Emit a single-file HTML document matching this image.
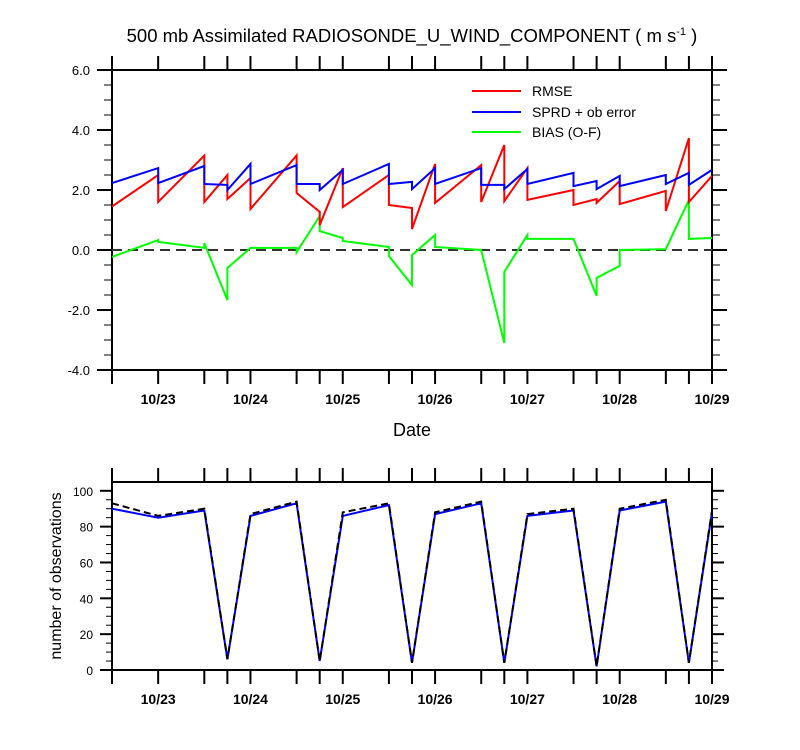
<!DOCTYPE html>
<html><head><meta charset="utf-8"><style>
html,body{margin:0;padding:0;background:#fff;}
svg{display:block;font-family:"Liberation Sans",Arial,sans-serif;}
</style></head><body>
<svg id="chart" width="800" height="750" viewBox="0 0 800 750">
<text x="412" y="42" text-anchor="middle" font-size="18.5">500 mb Assimilated RADIOSONDE_U_WIND_COMPONENT ( m s<tspan font-size="11" dy="-7">-1</tspan><tspan dy="7"> )</tspan></text>
<g id="topPanel"></g>
<g id="botPanel"></g>
<text x="412" y="436" text-anchor="middle" font-size="18">Date</text>
<text transform="translate(61,576) rotate(-90)" text-anchor="middle" font-size="16">number of observations</text>
<g>
<line x1="472" y1="91" x2="521" y2="91" stroke="#f00" stroke-width="2"/>
<text x="532" y="96" font-size="14">RMSE</text>
<line x1="472" y1="112" x2="521" y2="112" stroke="#00f" stroke-width="2"/>
<text x="532" y="117" font-size="14">SPRD + ob error</text>
<line x1="472" y1="132" x2="521" y2="132" stroke="#0f0" stroke-width="2"/>
<text x="532" y="137" font-size="14">BIAS (O-F)</text>
</g>
</svg>
<script>
const tickHours=[0,12,24,30,36,48,54,60,72,78,84,96,102,108,120,126,132,144,150,156];
const dateLabels=["10/23","10/24","10/25","10/26","10/27","10/28","10/29"];
const dateHours=[12,36,60,84,108,132,156];
const rmseT=[0,12,12,24,24,30,30,36,36,48,48,54,54,60,60,72,72,78,78,84,84,96,96,102,102,108,108,120,120,126,126,132,132,144,144,150,150,156];
const rmseV=[1.45,2.5,1.6,3.15,1.6,2.5,1.7,2.4,1.37,3.15,1.9,1.27,0.83,2.73,1.43,2.5,1.5,1.4,0.7,2.87,1.57,2.83,1.6,3.5,1.63,2.73,1.67,2.0,1.5,1.7,1.57,2.3,1.53,1.97,1.3,3.73,1.6,2.47];
const sprdT=[0,12,12,24,24,30,30,36,36,48,48,54,54,60,60,72,72,78,78,84,84,96,96,102,102,108,108,120,120,126,126,132,132,144,144,150,150,156];
const sprdV=[2.23,2.73,2.23,2.8,2.2,2.17,2.0,2.87,2.2,2.83,2.2,2.2,2.0,2.67,2.2,2.87,2.2,2.27,2.03,2.73,2.2,2.73,2.17,2.17,2.03,2.7,2.2,2.57,2.13,2.3,2.03,2.47,2.13,2.5,2.2,2.57,2.17,2.67];
const biasT=[0,12,12,24,24,30,30,36,48,48,54,54,60,60,72,72,78,78,84,84,96,102,102,108,108,120,126,126,132,132,144,150,150,156];
const biasV=[-0.23,0.33,0.27,0.07,0.23,-1.67,-0.6,0.07,0.07,-0.07,1.13,0.63,0.4,0.3,0.1,-0.2,-1.17,-0.17,0.5,0.1,0.0,-3.1,-0.73,0.5,0.37,0.37,-1.53,-0.93,-0.53,0,0.03,1.67,0.37,0.4];
const obsT=[0,12,24,30,36,48,54,60,72,78,84,96,102,108,120,126,132,144,150,156];
const obsUsed=[90,85,89,6,86,93,5,86,92,4,87,93,4,86,89,2,89,94,4,88];
const obsTotal=[93,86,90,6,87,94,5,88,93,4,88,94,4,87,90,2,90,95,4,89];
const topTicks=[6,4,2,0,-2,-4];
const botTicks=[0,20,40,60,80,100];

const NS="http://www.w3.org/2000/svg";
const X0=112,X1=712;
const xs=h=>X0+h*(X1-X0)/156;
const yTop=v=>250-v*30;
const yBot=v=>670-v*1.792;
function el(tag,attrs,parent){const e=document.createElementNS(NS,tag);for(const k in attrs)e.setAttribute(k,attrs[k]);parent.appendChild(e);return e;}
function ln(p,x1,y1,x2,y2,w){return el('line',{x1:x1,y1:y1,x2:x2,y2:y2,stroke:'#000','stroke-width':w||1.5},p);}

function frame(g,yT,yB,ymap,ticks,minorStep,lo,hi,fmt,fs,majLen,minLen,labX){
  const f=el('rect',{x:X0,y:yT,width:X1-X0,height:yB-yT,fill:'none',stroke:'#000','stroke-width':2},g);
  
  
  tickHours.forEach(h=>{const x=xs(h);ln(g,x,yT,x,yT-14,2);ln(g,x,yB,x,yB+14,2);});
  for(let v=lo;v<=hi+1e-9;v+=minorStep){const y=ymap(v);ln(g,X0,y,X0-minLen,y,1);ln(g,X1,y,X1+minLen,y,1);}
  ticks.forEach(v=>{const y=ymap(v);ln(g,X0,y,X0-majLen,y,2);ln(g,X1,y,X1+majLen,y,2);
    const t=el('text',{x:labX,y:y+5,'text-anchor':'end','font-size':fs},g);t.textContent=fmt(v);
    
    });
  dateHours.forEach((h,i)=>{const t=el('text',{x:xs(h),y:yB+34,'text-anchor':'middle','font-size':14,'font-weight':'bold'},g);t.textContent=dateLabels[i];
    
    });
}
function series(g,T,V,ymap,color,name,dash){
  const d=T.map((t,i)=>(i?'L':'M')+xs(t).toFixed(1)+' '+ymap(V[i]).toFixed(1)).join(' ');
  const p=el('path',{d:d,fill:'none',stroke:color,'stroke-width':2,'stroke-linejoin':'miter'},g);
  if(dash)p.setAttribute('stroke-dasharray',dash);
  
  
}
const topG=document.getElementById('topPanel'),botG=document.getElementById('botPanel');
frame(topG,70,370,yTop,topTicks,0.5,-4,6,v=>v.toFixed(1),13,15,8,90);
const zl=el('line',{x1:X0,y1:yTop(0),x2:X1,y2:yTop(0),stroke:'#333','stroke-width':2,'stroke-dasharray':'10 6'},topG);


series(topG,biasT,biasV,yTop,'#0f0','bias-line');
series(topG,rmseT,rmseV,yTop,'#f00','rmse-line');
series(topG,sprdT,sprdV,yTop,'#00f','sprd-line');
frame(botG,482,670,yBot,botTicks,5,0,100,v=>String(v),12,12,6,93);
series(botG,obsT,obsUsed,yBot,'#00f','obs-used-line');
series(botG,obsT,obsTotal,yBot,'#000','obs-total-line','7 4');
</script>
</body></html>
